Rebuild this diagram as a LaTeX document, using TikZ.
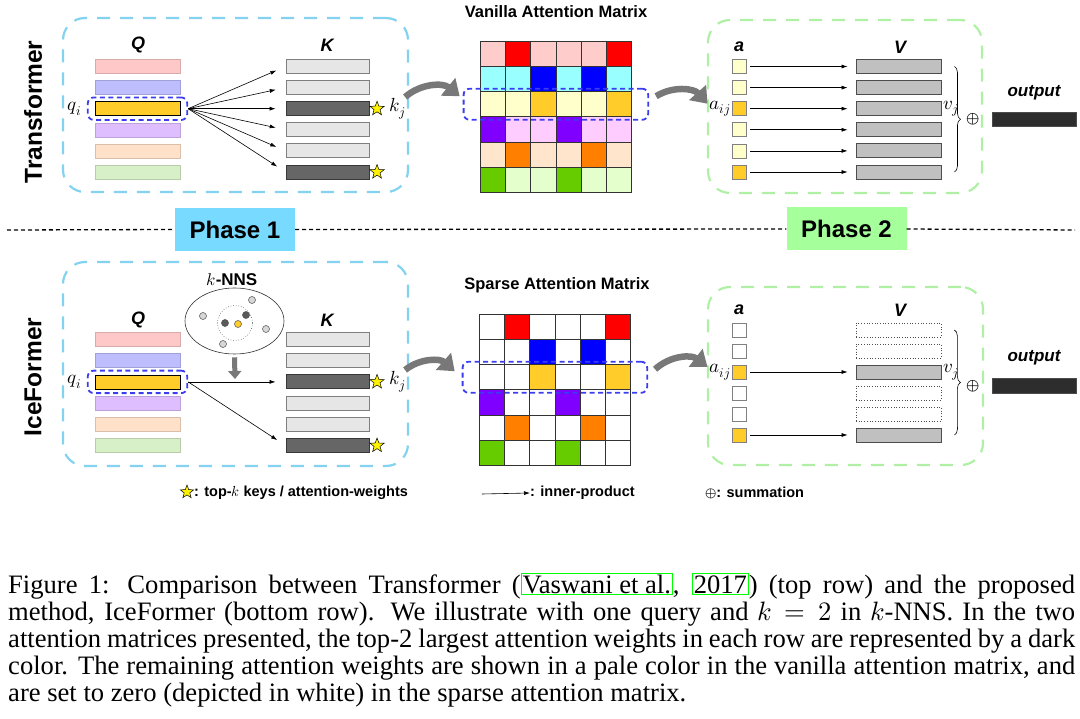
\documentclass[tikz,border=0pt]{standalone}
\usepackage{fontspec}
\usepackage{unicode-math}
\setmainfont{Liberation Serif}
\setsansfont{Liberation Sans}
\setmathfont{Latin Modern Math}
\usetikzlibrary{arrows.meta,calc,decorations.pathreplacing,positioning,shapes.geometric,fit}

\definecolor{PanelBlue}{RGB}{130,210,240}
\definecolor{PanelGreen}{RGB}{175,240,165}
\definecolor{HiBlue}{RGB}{60,60,240}
\definecolor{PhaseBlue}{RGB}{120,218,255}
\definecolor{PhaseGreen}{RGB}{165,255,155}
\definecolor{QPink}{RGB}{255,200,200}
\definecolor{QLav}{RGB}{190,190,255}
\definecolor{QGold}{RGB}{255,204,41}
\definecolor{QPurp}{RGB}{222,190,255}
\definecolor{QPeach}{RGB}{255,224,200}
\definecolor{QGreen}{RGB}{216,240,200}
\definecolor{KLight}{RGB}{230,230,230}
\definecolor{KDark}{RGB}{102,102,102}
\definecolor{VGray}{RGB}{192,192,192}
\definecolor{OutGray}{RGB}{45,45,45}
\definecolor{ArrowGray}{RGB}{120,120,120}
\definecolor{PtLight}{RGB}{215,215,215}
\definecolor{PtDark}{RGB}{90,90,90}
\definecolor{MRed}{RGB}{255,0,0}
\definecolor{MBlue}{RGB}{0,0,255}
\definecolor{MPurple}{RGB}{128,0,255}
\definecolor{MOrange}{RGB}{255,128,0}
\definecolor{MGreen}{RGB}{102,204,0}
\definecolor{LPink}{RGB}{255,204,204}
\definecolor{LCyan}{RGB}{153,255,255}
\definecolor{LYellow}{RGB}{255,255,204}
\definecolor{LPurple}{RGB}{255,204,255}
\definecolor{LPeach}{RGB}{255,229,204}
\definecolor{LGreen}{RGB}{229,255,204}
\definecolor{LinkGreen}{RGB}{0,255,0}

\newcommand{\linkbox}[1]{{\setlength{\fboxsep}{1pt}\setlength{\fboxrule}{0.9pt}\color{LinkGreen}\fbox{\color{black}#1}}}
\newcommand{\capline}[1]{\makebox[1067pt][s]{#1}}

\begin{document}
\begin{tikzpicture}[x=1pt,y=-1pt,>={Latex[length=6pt,width=4pt]},
  panel/.style={draw=#1,line width=2.2pt,dash pattern=on 13pt off 10pt,rounded corners=22pt,inner sep=0pt},
  hibox/.style={draw=HiBlue,line width=1.8pt,dash pattern=on 5pt off 3.5pt,rounded corners=6pt,inner sep=0pt},
  qbar/.style={fill=#1,draw=#1!85!black,line width=.5pt,minimum width=85pt,minimum height=14pt,inner sep=0pt},
  kbar/.style={fill=#1,draw=#1!55!black,line width=.9pt,minimum width=83pt,minimum height=14pt,inner sep=0pt},
  vbar/.style={fill=VGray,draw=VGray!40!black,line width=.9pt,minimum width=85pt,minimum height=14pt,inner sep=0pt},
  vnull/.style={fill=white,draw=black!70,dotted,line width=.7pt,minimum width=85pt,minimum height=14pt,inner sep=0pt},
  asq/.style={fill=#1,draw=black!50,line width=.6pt,minimum size=14pt,inner sep=0pt},
  cell/.style={fill=#1,draw=black!80,line width=.8pt,minimum size=25.3pt,inner sep=0pt},
  topk/.style={star,star points=5,star point ratio=2.4,fill=yellow,draw=black,line width=.5pt,minimum size=15pt,inner sep=0pt},
  knnpt/.style={circle,fill=#1,draw=black!70,line width=.5pt,minimum size=7pt,inner sep=0pt},
  ip/.style={->,line width=.6pt},
  bigarrow/.style={line width=6.5pt,draw=ArrowGray,-{Triangle[length=15pt,width=22pt]}},
  mlbl/.style={font=\fontsize{19}{22}\selectfont,inner sep=1pt},
  hdr/.style={font=\fontsize{18}{20}\selectfont\sffamily\bfseries\itshape},
  mtitle/.style={font=\fontsize{16.5}{18}\selectfont\sffamily\bfseries},
  rowname/.style={rotate=90,font=\fontsize{24.5}{26}\selectfont\sffamily\bfseries},
  phase/.style={fill=#1,minimum width=120pt,minimum height=43pt,inner sep=0pt,font=\fontsize{24}{26}\selectfont\sffamily\bfseries},
  lgd/.style={font=\fontsize{14.5}{16}\selectfont\sffamily\bfseries,inner sep=0pt},
  outbar/.style={fill=OutGray,draw=black!70,minimum width=84pt,minimum height=14pt,inner sep=0pt},
  capline/.style={anchor=base west,inner sep=0pt,font=\fontsize{26.6}{27}\selectfont}]
  \useasboundingbox (0,0) rectangle (1080,719);

  % ---------- top row: Transformer ----------
  \node[panel=PanelBlue,minimum width=345pt,minimum height=174pt] (panTL) at (235.5,105) {};
  \node[panel=PanelGreen,minimum width=274pt,minimum height=173pt] (panTR) at (845,106.5) {};
  \node[rowname] (nameT) at (33,112) {Transformer};
  \node[hdr] (qhT) at (138,45) {Q};
  \node[hdr] (khT) at (327,45) {K};
  \foreach \i/\qc/\qd in {0/QPink/QPink,1/QLav/QLav,2/QGold/black,3/QPurp/QPurp,4/QPeach/QPeach,5/QGreen/QGreen}
    \node[qbar=\qc,draw=\qd!85!black] (qT\i) at (137.5,{66.5+21.1*\i}) {};
  \foreach \i/\kc in {0/KLight,1/KLight,2/KDark,3/KLight,4/KLight,5/KDark}
    \node[kbar=\kc] (kT\i) at (327.5,{66.5+21.1*\i}) {};
  \node[hibox,fit=(qT2),inner xsep=7pt,inner ysep=4pt] (qboxT) {};
  \node[mlbl,left=12pt of qT2] (qiT) {$q_i$};
  \foreach \i in {0,...,5}
    \draw[ip,shorten >=10pt] (qboxT.east) -- (kT\i.west);
  \node[topk,right=3pt of kT2] (sT2) {};
  \node[mlbl,right=19pt of kT2] (kjT) {$k_j$};
  \node[topk,right=3pt of kT5] (sT5) {};

  % vanilla attention matrix
  \node[mtitle] (vanT) at (556,12) {Vanilla Attention Matrix};
  \foreach \row/\pale/\dk/\ca/\cb in {0/LPink/MRed/1/5,1/LCyan/MBlue/2/4,2/LYellow/QGold/2/5,
      3/LPurple/MPurple/0/3,4/LPeach/MOrange/1/4,5/LGreen/MGreen/0/3}
    \foreach \col in {0,...,5} {
      \pgfmathtruncatemacro\isdk{(\col==\ca)||(\col==\cb)}
      \ifnum\isdk=1 \def\cc{\dk}\else\def\cc{\pale}\fi
      \node[cell=\cc] (va\row\col) at ({480+25.3*(\col+.5)},{41+25.3*(\row+.5)}) {};
    }
  \node[hibox,fit=(va20)(va25),inner xsep=16pt,inner ysep=2.5pt] (hvT) {};

  % weights and values
  \node[hdr] (ahT) at (739,47) {a};
  \node[hdr] (vhT) at (900,47) {V};
  \foreach \i/\ac in {0/LYellow,1/LYellow,2/QGold,3/LYellow,4/LYellow,5/QGold} {
    \node[asq=\ac] (aT\i) at (739,{66.5+21.1*\i}) {};
    \node[vbar] (vT\i) at (898.5,{66.5+21.1*\i}) {};
    \draw[ip,shorten <=4pt,shorten >=8pt] (aT\i.east) -- (vT\i.west);
  }
  \node[mlbl,left=0pt of aT2] (aijT) {$a_{ij}$};
  \node[mlbl,right=1pt of vT2] (vjT) {$v_j$};
  \draw[decorate,decoration={brace,amplitude=6pt},line width=.6pt]
    ([xshift=13pt]vT0.east) -- ([xshift=13pt]vT5.east);
  \node[font=\fontsize{17}{19}\selectfont,inner sep=0pt] (sumT) at (973,119) {$\oplus$};
  \node[hdr,font=\fontsize{17}{19}\selectfont\sffamily\bfseries\itshape] (outT) at (1034,93) {output};
  \node[outbar] (obT) at (1034,119.5) {};

  \draw[bigarrow] ([shift={(-4pt,8pt)}]panTL.east) to[bend left=40] ([shift={(-3pt,8pt)}]hvT.west);
  \draw[bigarrow] ([shift={(7pt,8pt)}]hvT.east) to[bend left=40] ([shift={(-1pt,5pt)}]aijT.west);

  % ---------- phase separator ----------
  \node[phase=PhaseBlue] (ph1) at (235,229.5) {Phase 1};
  \node[phase=PhaseGreen] (ph2) at (846.5,229) {Phase 2};
  \coordinate (lnL) at (7,230);
  \coordinate (lnR) at (1075,230);
  \draw[line width=1.3pt,dash pattern=on 4pt off 3pt] (lnL) -- (ph1.west);
  \draw[line width=1.3pt,dash pattern=on 4pt off 3pt] (ph1.east) -- (ph2.west);
  \draw[line width=1.3pt,dash pattern=on 4pt off 3pt] (ph2.east) -- (lnR);

  % ---------- bottom row: IceFormer ----------
  \node[panel=PanelBlue,minimum width=345pt,minimum height=204pt] (panBL) at (235.5,364) {};
  \node[panel=PanelGreen,minimum width=275pt,minimum height=178pt] (panBR) at (845.5,376) {};
  \node[rowname] (nameB) at (33,377) {IceFormer};
  \node[hdr] (qhB) at (138,320) {Q};
  \node[hdr] (khB) at (327,320) {K};
  \foreach \i/\qc/\qd in {0/QPink/QPink,1/QLav/QLav,2/QGold/black,3/QPurp/QPurp,4/QPeach/QPeach,5/QGreen/QGreen}
    \node[qbar=\qc,draw=\qd!85!black] (qB\i) at (137.5,{339.5+21.2*\i}) {};
  \foreach \i/\kc in {0/KLight,1/KLight,2/KDark,3/KLight,4/KLight,5/KDark}
    \node[kbar=\kc] (kB\i) at (327.5,{339.5+21.2*\i}) {};
  \node[hibox,fit=(qB2),inner xsep=7pt,inner ysep=4pt] (qboxB) {};
  \node[mlbl,left=12pt of qB2] (qiB) {$q_i$};
  \draw[ip,shorten >=10pt] (qboxB.east) -- (kB2.west);
  \draw[ip,shorten >=10pt] (qboxB.east) -- (kB5.west);
  \node[topk,right=3pt of kB2] (sB2) {};
  \node[mlbl,right=19pt of kB2] (kjB) {$k_j$};
  \node[topk,right=3pt of kB5] (sB5) {};

  % k-NNS search
  \node[font=\fontsize{17}{19}\selectfont\sffamily\bfseries] (knnT) at (232,280) {$k$-NNS};
  \node[ellipse,draw=black!80,line width=.6pt,minimum width=99pt,minimum height=66pt] (knn) at (234.5,321) {};
  \node[circle,draw=black!70,dotted,line width=.6pt,minimum size=35pt,inner sep=0pt] (nbr) at (235,323) {};
  \foreach \nm/\px/\py/\pc in {p1/203/316/PtLight,p2/252/300/PtLight,p3/266/329/PtLight,p4/223/344/PtLight,
      p5/225/323/PtDark,p6/246/315/PtDark,p7/238/324/QGold}
    \node[knnpt=\pc] (\nm) at (\px,\py) {};
  \coordinate (knnTip) at (235,379);
  \draw[line width=5pt,draw=ArrowGray,-{Triangle[length=8pt,width=13pt]}] ([yshift=-3pt]knn.south) -- (knnTip);

  % sparse attention matrix
  \node[mtitle] (spaT) at (557,285) {Sparse Attention Matrix};
  \foreach \row/\dk/\ca/\cb in {0/MRed/1/5,1/MBlue/2/4,2/QGold/2/5,3/MPurple/0/3,4/MOrange/1/4,5/MGreen/0/3}
    \foreach \col in {0,...,5} {
      \pgfmathtruncatemacro\isdk{(\col==\ca)||(\col==\cb)}
      \ifnum\isdk=1 \def\cc{\dk}\else\def\cc{white}\fi
      \node[cell=\cc] (sp\row\col) at ({479+25.3*(\col+.5)},{314+25.3*(\row+.5)}) {};
    }
  \node[hibox,fit=(sp20)(sp25),inner xsep=16pt,inner ysep=2.5pt] (hvB) {};

  % sparse weights and values
  \node[hdr] (ahB) at (739,310) {a};
  \node[hdr] (vhB) at (900,310) {V};
  \foreach \i in {0,1,3,4} {
    \node[asq=white] (aB\i) at (739,{330+21*\i}) {};
    \node[vnull] (vB\i) at (898.5,{330+21*\i}) {};
  }
  \foreach \i in {2,5} {
    \node[asq=QGold] (aB\i) at (739,{330+21*\i}) {};
    \node[vbar] (vB\i) at (898.5,{330+21*\i}) {};
    \draw[ip,shorten <=4pt,shorten >=8pt] (aB\i.east) -- (vB\i.west);
  }
  \node[mlbl,left=0pt of aB2] (aijB) {$a_{ij}$};
  \node[mlbl,right=1pt of vB2] (vjB) {$v_j$};
  \draw[decorate,decoration={brace,amplitude=6pt},line width=.6pt]
    ([xshift=13pt]vB0.east) -- ([xshift=13pt]vB5.east);
  \node[font=\fontsize{17}{19}\selectfont,inner sep=0pt] (sumB) at (973,386) {$\oplus$};
  \node[hdr,font=\fontsize{17}{19}\selectfont\sffamily\bfseries\itshape] (outB) at (1034,358) {output};
  \node[outbar,minimum height=15pt] (obB) at (1034,385.5) {};

  \draw[bigarrow] ([shift={(-4pt,-6pt)}]panBL.east) to[bend left=40] ([shift={(-7pt,6pt)}]hvB.west);
  \draw[bigarrow] ([shift={(7pt,8pt)}]hvB.east) to[bend left=40] ([shift={(-1pt,5pt)}]aijB.west);

  % ---------- legend ----------
  \node[topk,minimum size=14pt] (lgStar) at (187,492) {};
  \node[lgd,anchor=west] (lgTop) at (194,493) {: top-$k$ keys / attention-weights};
  \coordinate (lgA) at (482,494);
  \node[lgd,anchor=west] (lgIP) at (530,493) {: inner-product};
  \draw[ip] (lgA) -- (lgIP.west);
  \node[lgd,anchor=west] (lgSum) at (705,493) {$\oplus$: summation};

  % ---------- caption ----------
  \node[capline] (cap1) at (8,593) {\capline{Figure 1: Comparison between Transformer (\linkbox{Vaswani et al.}, \linkbox{2017}) (top row) and the proposed}};
  \node[capline] (cap2) at (8,620) {\capline{method, IceFormer (bottom row). We illustrate with one query and $k = 2$ in $k$-NNS. In the two}};
  \node[capline] (cap3) at (8,647) {\capline{attention matrices presented, the top-2 largest attention weights in each row are represented by a dark}};
  \node[capline] (cap4) at (8,674) {\capline{color. The remaining attention weights are shown in a pale color in the vanilla attention matrix, and}};
  \node[capline] (cap5) at (8,701) {are set to zero (depicted in white) in the sparse attention matrix.};
\end{tikzpicture}
\end{document}
